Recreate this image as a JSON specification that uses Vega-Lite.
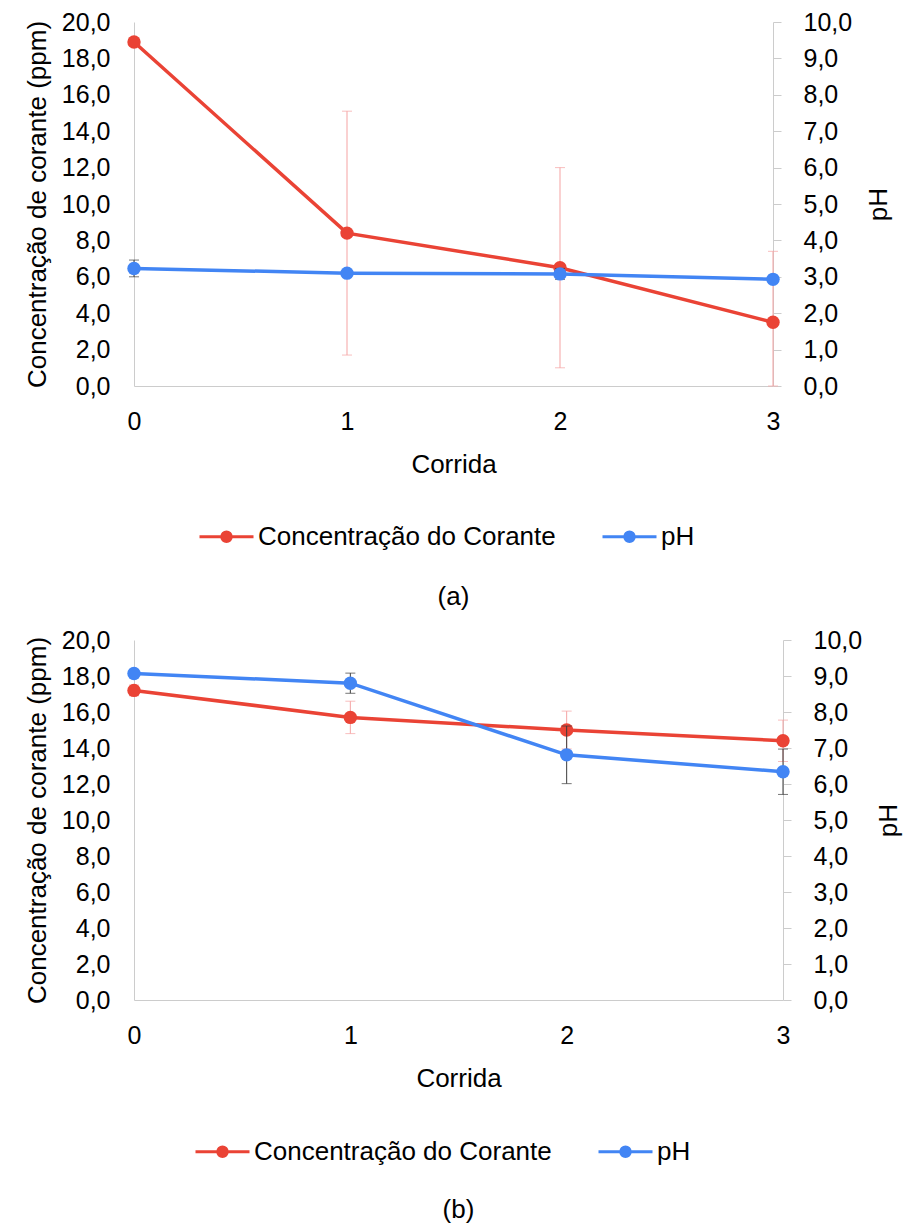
{
  "$schema": "https://vega.github.io/schema/vega-lite/v6.json",
  "background": "white",
  "padding": {"top": 10, "left": 24, "right": 4, "bottom": 6},
  "config": {
    "locale": {"number": {"decimal": ",", "thousands": ".", "grouping": [3], "currency": ["", ""]}},
    "font": "Liberation Sans",
    "view": {"stroke": null},
    "axis": {"labelFontSize": 25, "titleFontSize": 26, "labelColor": "#000000", "titleColor": "#000000", "titleFontWeight": "normal", "domainColor": "#cccccc", "tickColor": "#cccccc", "grid": false, "labelFont": "Liberation Sans", "titleFont": "Liberation Sans"},
    "legend": {"labelFontSize": 26, "labelColor": "#000000", "labelFont": "Liberation Sans", "labelLimit": 0},
    "title": {"fontSize": 26, "fontWeight": "normal", "font": "Liberation Sans", "color": "#000000"}
  },
  "data": {"values": [
    {"panel": "a", "corrida": 0, "series": "Concentração do Corante", "value": 18.9, "err": 0},
    {"panel": "a", "corrida": 1, "series": "Concentração do Corante", "value": 8.4, "err": 6.7},
    {"panel": "a", "corrida": 2, "series": "Concentração do Corante", "value": 6.5, "err": 5.5},
    {"panel": "a", "corrida": 3, "series": "Concentração do Corante", "value": 3.5, "err": 3.9},
    {"panel": "a", "corrida": 0, "series": "pH", "value": 3.23, "err": 0.23},
    {"panel": "a", "corrida": 1, "series": "pH", "value": 3.1, "err": 0},
    {"panel": "a", "corrida": 2, "series": "pH", "value": 3.08, "err": 0.15},
    {"panel": "a", "corrida": 3, "series": "pH", "value": 2.93, "err": 0},
    {"panel": "b", "corrida": 0, "series": "Concentração do Corante", "value": 17.2, "err": 0.3},
    {"panel": "b", "corrida": 1, "series": "Concentração do Corante", "value": 15.7, "err": 0.9},
    {"panel": "b", "corrida": 2, "series": "Concentração do Corante", "value": 15.0, "err": 1.05},
    {"panel": "b", "corrida": 3, "series": "Concentração do Corante", "value": 14.4, "err": 1.15},
    {"panel": "b", "corrida": 0, "series": "pH", "value": 9.07, "err": 0},
    {"panel": "b", "corrida": 1, "series": "pH", "value": 8.8, "err": 0.28},
    {"panel": "b", "corrida": 2, "series": "pH", "value": 6.81, "err": 0.8},
    {"panel": "b", "corrida": 3, "series": "pH", "value": 6.34, "err": 0.63}
  ]},
  "spacing": 18,
  "resolve": {"scale": {"color": "independent"}},
  "vconcat": [
    {
      "width": 639, "height": 364,
      "transform": [{"filter": "datum.panel == 'a'"}],
      "title": {"text": "(a)", "orient": "bottom", "offset": 34},
      "resolve": {"scale": {"y": "independent"}},
      "layer": [
        {"layer": [
          {"transform": [{"filter": "datum.series == 'Concentração do Corante' && datum.err > 0"}],
           "mark": {"type": "errorbar", "ticks": {"size": 10}, "color": "#f5a3a3", "thickness": 1},
           "encoding": {
             "x": {"field": "corrida", "type": "quantitative", "scale": {"domain": [0, 3], "nice": false}, "axis": {"values": [0, 1, 2, 3], "format": "d", "ticks": false, "labelPadding": 23, "title": "Corrida", "titlePadding": 17, "labelFlush": false}},
             "y": {"field": "value", "type": "quantitative", "scale": {"domain": [0, 20], "clamp": true}, "axis": {"orient": "left", "title": "Concentração de corante (ppm)", "values": [0, 2, 4, 6, 8, 10, 12, 14, 16, 18, 20], "format": ".1f", "ticks": false, "labelPadding": 24, "titlePadding": 11}},
             "yError": {"field": "err"}
           }},
          {"transform": [{"filter": "datum.series == 'Concentração do Corante'"}],
           "mark": {"type": "line", "strokeWidth": 3.5, "point": {"filled": true, "size": 180, "opacity": 1}},
           "encoding": {
             "x": {"field": "corrida", "type": "quantitative", "scale": {"domain": [0, 3], "nice": false}, "axis": {"values": [0, 1, 2, 3], "format": "d", "ticks": false, "labelPadding": 23, "title": "Corrida", "titlePadding": 17, "labelFlush": false}},
             "y": {"field": "value", "type": "quantitative", "scale": {"domain": [0, 20], "clamp": true}, "axis": {"orient": "left", "title": "Concentração de corante (ppm)", "values": [0, 2, 4, 6, 8, 10, 12, 14, 16, 18, 20], "format": ".1f", "ticks": false, "labelPadding": 24, "titlePadding": 11}},
             "color": {"field": "series", "type": "nominal", "scale": {"domain": ["Concentração do Corante", "pH"], "range": ["#ea4335", "#4285f4"]}, "legend": {"orient": "none", "legendX": 64, "legendY": 486, "title": null, "direction": "horizontal", "symbolType": "M-1,0H1M0.176,0A0.176,0.176,0,1,1,-0.176,0A0.176,0.176,0,1,1,0.176,0M0.11,0A0.11,0.11,0,1,1,-0.11,0A0.11,0.11,0,1,1,0.11,0M0.05,0A0.05,0.05,0,1,1,-0.05,0A0.05,0.05,0,1,1,0.05,0", "symbolSize": 2916, "symbolStrokeWidth": 3, "labelOffset": 3, "columnPadding": 40}}
           }}
        ]},
        {"layer": [
          {"transform": [{"filter": "datum.series == 'pH' && datum.err > 0"}],
           "mark": {"type": "errorbar", "ticks": {"size": 10}, "color": "#3c3c3c", "thickness": 1},
           "encoding": {
             "x": {"field": "corrida", "type": "quantitative", "scale": {"domain": [0, 3], "nice": false}, "axis": {"values": [0, 1, 2, 3], "format": "d", "ticks": false, "labelPadding": 23, "title": "Corrida", "titlePadding": 17, "labelFlush": false}},
             "y": {"field": "value", "type": "quantitative", "scale": {"domain": [0, 10], "clamp": true}, "axis": {"orient": "right", "title": "pH", "values": [0, 1, 2, 3, 4, 5, 6, 7, 8, 9, 10], "format": ".1f", "ticks": true, "tickSize": 8, "labelPadding": 22, "titleAngle": 270, "titlePadding": 40}},
             "yError": {"field": "err"}
           }},
          {"transform": [{"filter": "datum.series == 'pH'"}],
           "mark": {"type": "line", "strokeWidth": 3.5, "point": {"filled": true, "size": 180, "opacity": 1}},
           "encoding": {
             "x": {"field": "corrida", "type": "quantitative", "scale": {"domain": [0, 3], "nice": false}, "axis": {"values": [0, 1, 2, 3], "format": "d", "ticks": false, "labelPadding": 23, "title": "Corrida", "titlePadding": 17, "labelFlush": false}},
             "y": {"field": "value", "type": "quantitative", "scale": {"domain": [0, 10], "clamp": true}, "axis": {"orient": "right", "title": "pH", "values": [0, 1, 2, 3, 4, 5, 6, 7, 8, 9, 10], "format": ".1f", "ticks": true, "tickSize": 8, "labelPadding": 22, "titleAngle": 270, "titlePadding": 40}},
             "color": {"field": "series", "type": "nominal", "scale": {"domain": ["Concentração do Corante", "pH"], "range": ["#ea4335", "#4285f4"]}, "legend": {"orient": "none", "legendX": 64, "legendY": 486, "title": null, "direction": "horizontal", "symbolType": "M-1,0H1M0.176,0A0.176,0.176,0,1,1,-0.176,0A0.176,0.176,0,1,1,0.176,0M0.11,0A0.11,0.11,0,1,1,-0.11,0A0.11,0.11,0,1,1,0.11,0M0.05,0A0.05,0.05,0,1,1,-0.05,0A0.05,0.05,0,1,1,0.05,0", "symbolSize": 2916, "symbolStrokeWidth": 3, "labelOffset": 3, "columnPadding": 40}}
           }}
        ]}
      ]
    },
    {
      "width": 649, "height": 360,
      "transform": [{"filter": "datum.panel == 'b'"}],
      "title": {"text": "(b)", "orient": "bottom", "offset": 32},
      "resolve": {"scale": {"y": "independent"}},
      "layer": [
        {"layer": [
          {"transform": [{"filter": "datum.series == 'Concentração do Corante' && datum.err > 0"}],
           "mark": {"type": "errorbar", "ticks": {"size": 10}, "color": "#f5a3a3", "thickness": 1},
           "encoding": {
             "x": {"field": "corrida", "type": "quantitative", "scale": {"domain": [0, 3], "nice": false}, "axis": {"values": [0, 1, 2, 3], "format": "d", "ticks": false, "labelPadding": 23, "title": "Corrida", "titlePadding": 17, "labelFlush": false}},
             "y": {"field": "value", "type": "quantitative", "scale": {"domain": [0, 20], "clamp": true}, "axis": {"orient": "left", "title": "Concentração de corante (ppm)", "values": [0, 2, 4, 6, 8, 10, 12, 14, 16, 18, 20], "format": ".1f", "ticks": false, "labelPadding": 24, "titlePadding": 11}},
             "yError": {"field": "err"}
           }},
          {"transform": [{"filter": "datum.series == 'Concentração do Corante'"}],
           "mark": {"type": "line", "strokeWidth": 3.5, "point": {"filled": true, "size": 180, "opacity": 1}},
           "encoding": {
             "x": {"field": "corrida", "type": "quantitative", "scale": {"domain": [0, 3], "nice": false}, "axis": {"values": [0, 1, 2, 3], "format": "d", "ticks": false, "labelPadding": 23, "title": "Corrida", "titlePadding": 17, "labelFlush": false}},
             "y": {"field": "value", "type": "quantitative", "scale": {"domain": [0, 20], "clamp": true}, "axis": {"orient": "left", "title": "Concentração de corante (ppm)", "values": [0, 2, 4, 6, 8, 10, 12, 14, 16, 18, 20], "format": ".1f", "ticks": false, "labelPadding": 24, "titlePadding": 11}},
             "color": {"field": "series", "type": "nominal", "scale": {"domain": ["Concentração do Corante", "pH"], "range": ["#ea4335", "#4285f4"]}, "legend": {"orient": "none", "legendX": 60, "legendY": 483, "title": null, "direction": "horizontal", "symbolType": "M-1,0H1M0.176,0A0.176,0.176,0,1,1,-0.176,0A0.176,0.176,0,1,1,0.176,0M0.11,0A0.11,0.11,0,1,1,-0.11,0A0.11,0.11,0,1,1,0.11,0M0.05,0A0.05,0.05,0,1,1,-0.05,0A0.05,0.05,0,1,1,0.05,0", "symbolSize": 2916, "symbolStrokeWidth": 3, "labelOffset": 3, "columnPadding": 40}}
           }}
        ]},
        {"layer": [
          {"transform": [{"filter": "datum.series == 'pH' && datum.err > 0"}],
           "mark": {"type": "errorbar", "ticks": {"size": 10}, "color": "#3c3c3c", "thickness": 1},
           "encoding": {
             "x": {"field": "corrida", "type": "quantitative", "scale": {"domain": [0, 3], "nice": false}, "axis": {"values": [0, 1, 2, 3], "format": "d", "ticks": false, "labelPadding": 23, "title": "Corrida", "titlePadding": 17, "labelFlush": false}},
             "y": {"field": "value", "type": "quantitative", "scale": {"domain": [0, 10], "clamp": true}, "axis": {"orient": "right", "title": "pH", "values": [0, 1, 2, 3, 4, 5, 6, 7, 8, 9, 10], "format": ".1f", "ticks": true, "tickSize": 8, "labelPadding": 22, "titleAngle": 270, "titlePadding": 40}},
             "yError": {"field": "err"}
           }},
          {"transform": [{"filter": "datum.series == 'pH'"}],
           "mark": {"type": "line", "strokeWidth": 3.5, "point": {"filled": true, "size": 180, "opacity": 1}},
           "encoding": {
             "x": {"field": "corrida", "type": "quantitative", "scale": {"domain": [0, 3], "nice": false}, "axis": {"values": [0, 1, 2, 3], "format": "d", "ticks": false, "labelPadding": 23, "title": "Corrida", "titlePadding": 17, "labelFlush": false}},
             "y": {"field": "value", "type": "quantitative", "scale": {"domain": [0, 10], "clamp": true}, "axis": {"orient": "right", "title": "pH", "values": [0, 1, 2, 3, 4, 5, 6, 7, 8, 9, 10], "format": ".1f", "ticks": true, "tickSize": 8, "labelPadding": 22, "titleAngle": 270, "titlePadding": 40}},
             "color": {"field": "series", "type": "nominal", "scale": {"domain": ["Concentração do Corante", "pH"], "range": ["#ea4335", "#4285f4"]}, "legend": {"orient": "none", "legendX": 60, "legendY": 483, "title": null, "direction": "horizontal", "symbolType": "M-1,0H1M0.176,0A0.176,0.176,0,1,1,-0.176,0A0.176,0.176,0,1,1,0.176,0M0.11,0A0.11,0.11,0,1,1,-0.11,0A0.11,0.11,0,1,1,0.11,0M0.05,0A0.05,0.05,0,1,1,-0.05,0A0.05,0.05,0,1,1,0.05,0", "symbolSize": 2916, "symbolStrokeWidth": 3, "labelOffset": 3, "columnPadding": 40}}
           }}
        ]}
      ]
    }
  ]
}
